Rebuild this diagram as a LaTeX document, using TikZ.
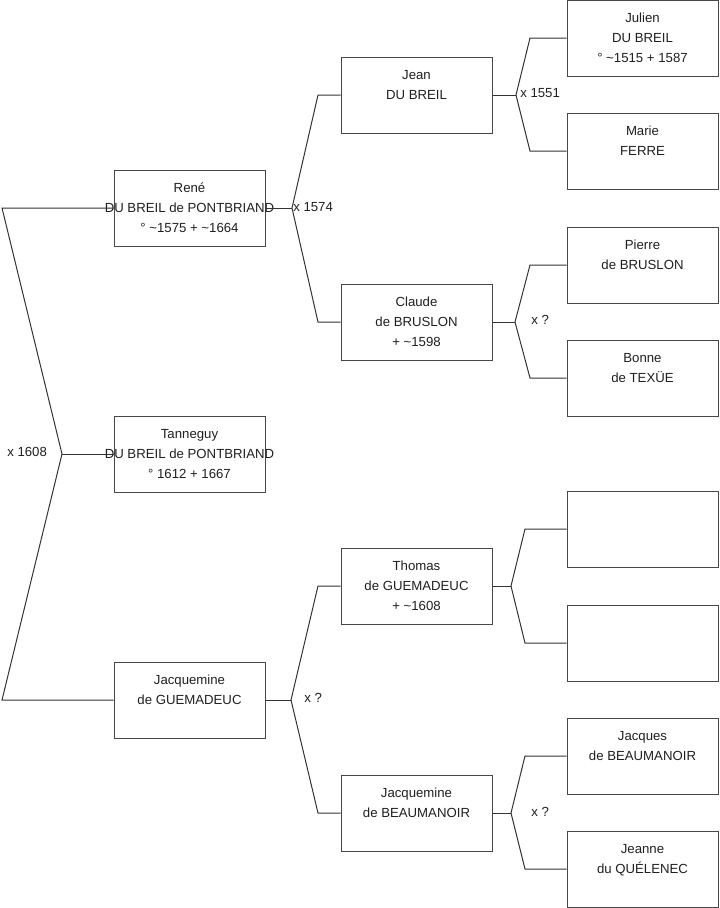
\documentclass[tikz,border=0pt]{standalone}
\usepackage{fontspec}
\setmainfont{Liberation Sans}
\newcommand\threelines[3]{\strut#1\\\strut#2\\\strut#3}
\begin{document}
\begin{tikzpicture}[x=0.75pt,y=-0.75pt,
  personbox/.style={draw=black!72,line width=0.75pt,minimum width=113.25pt,minimum height=57pt,inner sep=0pt},
  persontext/.style={align=center,inner sep=0pt,font=\fontsize{9.9}{15}\selectfont,text=black!88},
  link/.style={draw=black!80,line width=0.75pt},
  marr/.style={inner sep=0pt,font=\fontsize{9.9}{12}\selectfont,text=black!88}]
\useasboundingbox (0,0) rectangle (719,908);
% generation 1
\node[personbox] (rene) at (189.5,208) {};
\node[personbox] (tann) at (189.5,454) {};
\node[personbox] (jacq) at (189.5,700) {};
% generation 2
\node[personbox] (jean) at (416.5,95) {};
\node[personbox] (claude) at (416.5,322) {};
\node[personbox] (thomas) at (416.5,586) {};
\node[personbox] (jacqb) at (416.5,813) {};
% generation 3
\node[personbox] (julien) at (642.5,38) {};
\node[personbox] (marie) at (642.5,151) {};
\node[personbox] (pierre) at (642.5,265) {};
\node[personbox] (bonne) at (642.5,378) {};
\node[personbox] (emptya) at (642.5,529) {};
\node[personbox] (emptyb) at (642.5,643) {};
\node[personbox] (jacques) at (642.5,756) {};
\node[personbox] (jeanne) at (642.5,869) {};
% texts
\node[persontext] (rene-t) at (rene) {\threelines{René}{DU BREIL de PONTBRIAND}{° \textasciitilde1575 + \textasciitilde1664}};
\node[persontext] (tann-t) at (tann) {\threelines{Tanneguy}{DU BREIL de PONTBRIAND}{° 1612 + 1667}};
\node[persontext] (jacq-t) at (jacq) {\threelines{Jacquemine}{de GUEMADEUC}{}};
\node[persontext] (jean-t) at (jean) {\threelines{Jean}{DU BREIL}{}};
\node[persontext] (claude-t) at (claude) {\threelines{Claude}{de BRUSLON}{+ \textasciitilde1598}};
\node[persontext] (thomas-t) at (thomas) {\threelines{Thomas}{de GUEMADEUC}{+ \textasciitilde1608}};
\node[persontext] (jacqb-t) at (jacqb) {\threelines{Jacquemine}{de BEAUMANOIR}{}};
\node[persontext] (julien-t) at (julien) {\threelines{Julien}{DU BREIL}{° \textasciitilde1515 + 1587}};
\node[persontext] (marie-t) at (marie) {\threelines{Marie}{FERRE}{}};
\node[persontext] (pierre-t) at (pierre) {\threelines{Pierre}{de BRUSLON}{}};
\node[persontext] (bonne-t) at (bonne) {\threelines{Bonne}{de TEXÜE}{}};
\node[persontext] (jacques-t) at (jacques) {\threelines{Jacques}{de BEAUMANOIR}{}};
\node[persontext] (jeanne-t) at (jeanne) {\threelines{Jeanne}{du QUÉLENEC}{}};
% fork coordinates
\coordinate (f0) at (62,454);
\coordinate (f0a) at (2,208);
\coordinate (f0b) at (2,700);
\coordinate (f1) at (292,208);
\coordinate (f1a) at (318,95);
\coordinate (f1b) at (318,322);
\coordinate (f2) at (516,95);
\coordinate (f2a) at (530,38);
\coordinate (f2b) at (530,151);
\coordinate (f3) at (515,322);
\coordinate (f3a) at (530,265);
\coordinate (f3b) at (530,378);
\coordinate (f4) at (291,700);
\coordinate (f4a) at (318,586);
\coordinate (f4b) at (318,813);
\coordinate (f5) at (511,586);
\coordinate (f5a) at (525,529);
\coordinate (f5b) at (525,643);
\coordinate (f6) at (511,813);
\coordinate (f6a) at (525,756);
\coordinate (f6b) at (525,869);
% connectors
\draw[link] (rene.west) -- (f0a) -- (f0) -- (f0b) -- (jacq.west);
\draw[link] (f0) -- (tann.west);
\draw[link] (rene.east) -- (f1);
\draw[link] (jean.west) -- (f1a) -- (f1) -- (f1b) -- (claude.west);
\draw[link] (jean.east) -- (f2);
\draw[link] (julien.west) -- (f2a) -- (f2) -- (f2b) -- (marie.west);
\draw[link] (claude.east) -- (f3);
\draw[link] (pierre.west) -- (f3a) -- (f3) -- (f3b) -- (bonne.west);
\draw[link] (jacq.east) -- (f4);
\draw[link] (thomas.west) -- (f4a) -- (f4) -- (f4b) -- (jacqb.west);
\draw[link] (thomas.east) -- (f5);
\draw[link] (emptya.west) -- (f5a) -- (f5) -- (f5b) -- (emptyb.west);
\draw[link] (jacqb.east) -- (f6);
\draw[link] (jacques.west) -- (f6a) -- (f6) -- (f6b) -- (jeanne.west);
% marriage labels
\node[marr,anchor=west] (m0) at (7,452) {x 1608};
\node[marr,anchor=west] (m1) at (293,207) {x 1574};
\node[marr,anchor=west] (m2) at (520,93) {x 1551};
\node[marr,anchor=west] (m3) at (531,320) {x ?};
\node[marr,anchor=west] (m4) at (304,698) {x ?};
\node[marr,anchor=west] (m6) at (531,812) {x ?};
\end{tikzpicture}
\end{document}
